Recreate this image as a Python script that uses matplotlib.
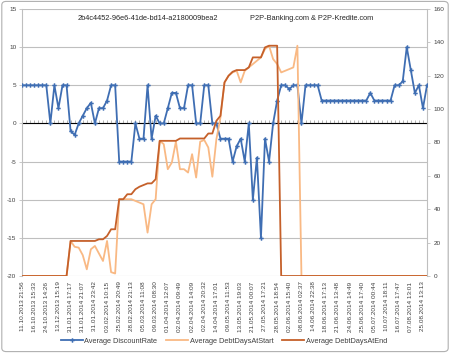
import matplotlib
matplotlib.use("Agg")
import matplotlib.pyplot as plt
from matplotlib.patches import FancyBboxPatch
from matplotlib.lines import Line2D
import numpy as np

# ---- data ----
discount_rate = [5, 5, 5, 5, 5, 5, 5, 0, 5, 2, 5, 5, -1, -1.5, 0, 1, 2, 2.7, 0, 2,
                 2, 3, 5, 5, -5, -5, -5, -5, 0, -2, -2, 5, -2, 1, 0, 0, 2, 4, 4, 2,
                 2, 5, 5, 0, 0, 5, 5, 0, 0, -2, -2, -2, -5, -3, -2, -5, 0, -10, -4.5, -15,
                 -2, -5, 0, 3, 5, 5, 4.5, 5, 5, 0, 5, 5, 5, 5, 3, 3, 3, 3, 3, 3,
                 3, 3, 3, 3, 3, 3, 4, 3, 3, 3, 3, 3, 5, 5, 5.5, 10, 7, 4, 5, 2, 5]

debt_days_start = [0, 0, 0, 0, 0, 0, 0, 0, 0, 0, 0, 0, 21, 17.5, 17, 12.5, 4, 16, 18, 13.5,
                   9, 21, 2.3, 1.5, 46, 46, 46, 46, 45, 44, 43, 26, 43, 46, 81, 79, 64, 68, 80.5, 64,
                   64, 62, 73, 59, 80.5, 81.5, 77, 59.5, 82, 95, 116, 120, 122, 123, 116, 123, 125, 127, 129, 131,
                   136, 138, 130, 127, 122, 123, 124, 125, 138, 0, 0, 0, 0, 0, 0, 0, 0, 0, 0, 0,
                   0, 0, 0, 0, 0, 0, 0, 0, 0, 0, 0, 0, 0, 0, 0, 0, 0, 0, 0, 0, 0]

debt_days_end = [0, 0, 0, 0, 0, 0, 0, 0, 0, 0, 0, 0, 21, 21, 21, 21, 21, 21, 21, 22,
                 22, 24, 28, 28, 46, 46, 49, 49, 52, 53.5, 54.5, 55.5, 55.5, 58, 81, 81, 81, 81, 81, 82.4,
                 82.4, 82.4, 82.4, 82.4, 82.4, 82.4, 85.4, 85.4, 93, 96, 116, 120, 122.4, 123.4, 123.4, 123.4, 125, 131, 131, 131,
                 137, 138, 138, 138, 0, 0, 0, 0, 0, 0, 0, 0, 0, 0, 0, 0, 0, 0, 0, 0,
                 0, 0, 0, 0, 0, 0, 0, 0, 0, 0, 0, 0, 0, 0, 0, 0, 0, 0, 0, 0, 0]

shown_labels = ["11.10.2013 21:56", "16.10.2013 15:33", "24.10.2013 14:26", "13.12.2013 15:19",
                "31.01.2014 17:17", "31.01.2014 21:07", "31.01.2014 23:42", "03.02.2014 10:15",
                "25.02.2014 20:49", "28.02.2014 21:13", "05.03.2014 11:08", "09.03.2014 08:30",
                "01.04.2014 12:07", "02.04.2014 09:49", "02.04.2014 14:09", "02.04.2014 20:32",
                "14.04.2014 17:01", "09.05.2014 11:53", "13.05.2014 19:03", "21.05.2014 00:07",
                "27.05.2014 17:21", "28.05.2014 18:54", "02.06.2014 15:40", "08.06.2014 02:37",
                "14.06.2014 22:38", "18.06.2014 17:13", "21.06.2014 13:48", "24.06.2014 14:49",
                "25.06.2014 17:40", "05.07.2014 00:44", "10.07.2014 18:11", "16.07.2014 17:47",
                "07.08.2014 13:01", "25.08.2014 13:13"]
label_step = 3

left_ticks = [-20, -15, -10, -5, 0, 5, 10, 15]
right_ticks = [0, 20, 40, 60, 80, 100, 120, 140, 160]

title_id = "2b4c4452-96e6-41de-bd14-a2180009bea2"
title_site = "P2P-Banking.com & P2P-Kredite.com"

# ---- style ----
BLUE = "#3F6EB3"
LIGHT = "#F9B984"
DARK = "#C5602A"
GRID = "#BFBFBF"
TXT = "#404040"
FS = 4.6

plt.rcParams['font.family'] = ['Liberation Sans', 'DejaVu Sans']

fig = plt.figure(figsize=(4.5, 3.53), dpi=100)
fig.patch.set_facecolor("white")
border = FancyBboxPatch((0.004, 0.004), 0.992, 0.992, boxstyle="round,pad=0,rounding_size=0.01",
                        transform=fig.transFigure, facecolor="white", edgecolor="#B0B0B0",
                        linewidth=0.8, zorder=-10)
fig.patches.append(border)

ax = fig.add_axes([22/450, 1-276/353, 405/450, 267/353])
x = np.arange(len(discount_rate))
ax.set_xlim(0, len(discount_rate) - 1)
ax.set_ylim(-20, 15)
ax.set_yticks(left_ticks)
ax.set_yticklabels([str(t) for t in left_ticks], fontsize=FS, color=TXT)
for t in left_ticks:
    ax.axhline(t, color=GRID, linewidth=0.8, zorder=0)
ax.tick_params(axis='y', length=2, width=0.6, color=GRID, pad=2)

ticks = list(range(0, len(discount_rate), label_step))[:len(shown_labels)]
ax.set_xticks(ticks)
ax.set_xticklabels(shown_labels, rotation=90, fontsize=FS, color=TXT)
ax.tick_params(axis='x', length=0, pad=4)

for s in ['top', 'bottom']:
    ax.spines[s].set_visible(False)
for s in ['left', 'right']:
    ax.spines[s].set_color(GRID)
    ax.spines[s].set_linewidth(0.8)

# category axis crossing at 0 with small tick marks
sec = ax.secondary_xaxis(20/35)
sec.set_xticks(x)
sec.set_xticklabels([])
sec.tick_params(axis='x', length=2, width=0.6, color="#A6A6A6", direction='out')
sec.spines['bottom'].set_color("#A6A6A6")
sec.spines['bottom'].set_linewidth(0.8)

ax.plot(x, discount_rate, color=BLUE, linewidth=1.3, marker='P', markersize=3.2,
        markeredgewidth=0, markerfacecolor=BLUE, zorder=3)

ax2 = ax.twinx()
ax2.set_ylim(0, 160)
ax2.set_yticks(right_ticks)
ax2.set_yticklabels([str(t) for t in right_ticks], fontsize=FS, color=TXT)
ax2.tick_params(axis='y', length=2, width=0.6, color=GRID, pad=3)
for s in ['top', 'bottom', 'left', 'right']:
    ax2.spines[s].set_visible(False)
ax2.plot(x, debt_days_start, color=LIGHT, linewidth=1.3, zorder=3)
ax2.plot(x, debt_days_end, color=DARK, linewidth=1.3, zorder=4)

fig.text(148/450, 1-19/353, title_id, fontsize=5.3, color="#262626", ha='center', va='center')
fig.text(312/450, 1-18/353, title_site, fontsize=5.3, color="#262626", ha='center', va='center')

handles = [Line2D([], [], color=BLUE, linewidth=1.3, marker='P', markersize=3.2, markeredgewidth=0),
           Line2D([], [], color=LIGHT, linewidth=1.3),
           Line2D([], [], color=DARK, linewidth=1.3)]
fig.legend(handles, ["Average DiscountRate", "Average DebtDaysAtStart", "Average DebtDaysAtEnd"],
           loc='center', bbox_to_anchor=(224/450, 1-341/353), ncol=3, frameon=False,
           fontsize=5.3, handlelength=3.0, columnspacing=1.2, handletextpad=0.2,
           labelcolor=TXT)

fig.savefig("out.png", dpi=100, facecolor="white")
